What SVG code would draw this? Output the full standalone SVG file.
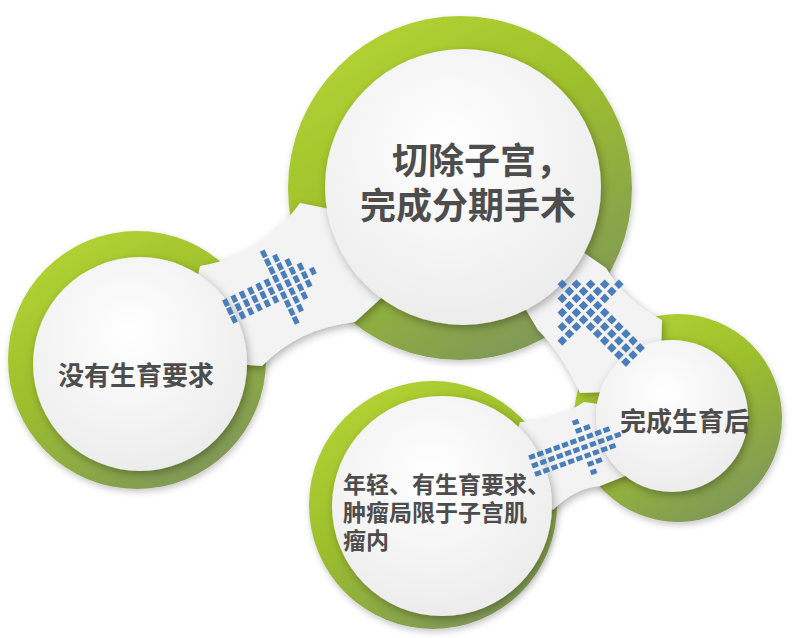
<svg xmlns="http://www.w3.org/2000/svg" xmlns:xlink="http://www.w3.org/1999/xlink" width="811" height="638" viewBox="0 0 811 638">
<defs>
<linearGradient id="gr" x1="0.15" y1="0" x2="0.75" y2="1">
<stop offset="0" stop-color="#b5d533"/>
<stop offset="0.45" stop-color="#9dbf2c"/>
<stop offset="1" stop-color="#7e955b"/>
</linearGradient>
<radialGradient id="gw" cx="0.45" cy="0.35" r="0.7">
<stop offset="0" stop-color="#ffffff"/>
<stop offset="1" stop-color="#ebebeb"/>
</radialGradient>
<filter id="sh" x="-20%" y="-20%" width="140%" height="140%">
<feDropShadow dx="2" dy="3" stdDeviation="4" flood-color="#000" flood-opacity="0.3"/>
</filter>
<filter id="shr" x="-20%" y="-20%" width="140%" height="140%">
<feDropShadow dx="1" dy="3" stdDeviation="3" flood-color="#000" flood-opacity="0.22"/>
</filter>
<rect id="q1" x="-0.28" y="-0.4" width="0.56" height="0.8"/>
<rect id="q2" x="-0.34" y="-0.34" width="0.68" height="0.68"/>
<rect id="q3" x="-0.36" y="-0.28" width="0.72" height="0.56"/>
</defs>
<style>
.ring{fill:url(#gr)}
.inner{fill:url(#gw);filter:url(#sh)}
.band{fill:#f3f3f3}
.lbl{font-family:"Liberation Sans","Noto Sans CJK SC",sans-serif;font-weight:700;fill:#4d4d4d}
.dots{fill:#4a7ebb}
</style>
<rect width="811" height="638" fill="#ffffff"/>

<g id="rings" filter="url(#shr)">
<circle id="ring-top" class="ring" cx="460" cy="188" r="172"/>
<circle id="ring-left" class="ring" cx="137" cy="360" r="129"/>
<circle id="ring-right" class="ring" cx="678" cy="418" r="104"/>
<circle id="ring-bottom" class="ring" cx="433" cy="505" r="124"/>
</g>

<g id="connector-bands" filter="url(#sh)">
<path class="band" d="M200,266 Q262,256 300,203 L360,215 L390,290 L355,322 Q298,328 262,366 L180,360 Z"/>
<path class="band" d="M606,268 Q626,302 662,320 L660,390 L580,393 Q564,356 538,330 L520,300 L580,250 Z"/>
<path class="band" d="M520,422 Q554,422 584,402 L640,410 L640,470 L600,486 Q574,488 553,510 L500,480 Z"/>
</g>

<g id="node-top">
<circle class="inner" cx="463" cy="187" r="138"/>
<text class="lbl" x="392" y="174" font-size="36">切除子宫，</text>
<text class="lbl" x="360" y="219" font-size="36">完成分期手术</text>
</g>
<g id="node-left">
<circle class="inner" cx="140" cy="364" r="107"/>
<text class="lbl" x="58" y="385" font-size="26">没有生育要求</text>
</g>
<g id="node-right">
<circle class="inner" cx="672" cy="416" r="76"/>
<text class="lbl" x="620" y="431" font-size="26">完成生育后</text>
</g>
<g id="node-bottom">
<circle class="inner" cx="442" cy="506" r="110"/>
<text class="lbl" x="343" y="493" font-size="23">年轻、有生育要求、</text>
<text class="lbl" x="343" y="521" font-size="23">肿瘤局限于子宫肌</text>
<text class="lbl" x="343" y="549" font-size="23">瘤内</text>
</g>

<g id="connectors" class="dots">
<g id="arrow-left-top" transform="translate(230,311) rotate(-25.7) scale(9.2)">
<use href="#q1" x="0" y="-1"/><use href="#q1" x="0" y="0"/><use href="#q1" x="0" y="1"/>
<use href="#q1" x="1" y="-1"/><use href="#q1" x="1" y="0"/><use href="#q1" x="1" y="1"/>
<use href="#q1" x="2" y="-1"/><use href="#q1" x="2" y="0"/><use href="#q1" x="2" y="1"/>
<use href="#q1" x="3" y="-1"/><use href="#q1" x="3" y="0"/><use href="#q1" x="3" y="1"/>
<use href="#q1" x="4" y="-1"/><use href="#q1" x="4" y="0"/><use href="#q1" x="4" y="1"/>
<use href="#q1" x="5" y="-1"/><use href="#q1" x="5" y="0"/><use href="#q1" x="5" y="1"/>
<use href="#q1" x="6" y="-4"/><use href="#q1" x="6" y="-3"/><use href="#q1" x="6" y="-2"/><use href="#q1" x="6" y="-1"/><use href="#q1" x="6" y="0"/><use href="#q1" x="6" y="1"/><use href="#q1" x="6" y="2"/><use href="#q1" x="6" y="3"/><use href="#q1" x="6" y="4"/>
<use href="#q1" x="7" y="-3"/><use href="#q1" x="7" y="-2"/><use href="#q1" x="7" y="-1"/><use href="#q1" x="7" y="0"/><use href="#q1" x="7" y="1"/><use href="#q1" x="7" y="2"/><use href="#q1" x="7" y="3"/>
<use href="#q1" x="8" y="-2"/><use href="#q1" x="8" y="-1"/><use href="#q1" x="8" y="0"/><use href="#q1" x="8" y="1"/><use href="#q1" x="8" y="2"/>
<use href="#q1" x="9" y="-1"/><use href="#q1" x="9" y="0"/><use href="#q1" x="9" y="1"/>
<use href="#q1" x="10" y="0"/>
</g>
<g id="arrow-right-top" transform="translate(633,355) rotate(-135) scale(10)">
<use href="#q2" x="0" y="-1"/><use href="#q2" x="0" y="0"/><use href="#q2" x="0" y="1"/>
<use href="#q2" x="1" y="-1"/><use href="#q2" x="1" y="0"/><use href="#q2" x="1" y="1"/>
<use href="#q2" x="2" y="-1"/><use href="#q2" x="2" y="0"/><use href="#q2" x="2" y="1"/>
<use href="#q2" x="3" y="-1"/><use href="#q2" x="3" y="0"/><use href="#q2" x="3" y="1"/>
<use href="#q2" x="4" y="-1"/><use href="#q2" x="4" y="0"/><use href="#q2" x="4" y="1"/>
<use href="#q2" x="5" y="-1"/><use href="#q2" x="5" y="0"/><use href="#q2" x="5" y="1"/>
<use href="#q2" x="6" y="-4"/><use href="#q2" x="6" y="-3"/><use href="#q2" x="6" y="-2"/><use href="#q2" x="6" y="-1"/><use href="#q2" x="6" y="0"/><use href="#q2" x="6" y="1"/><use href="#q2" x="6" y="2"/><use href="#q2" x="6" y="3"/><use href="#q2" x="6" y="4"/>
<use href="#q2" x="7" y="-3"/><use href="#q2" x="7" y="-2"/><use href="#q2" x="7" y="-1"/><use href="#q2" x="7" y="0"/><use href="#q2" x="7" y="1"/><use href="#q2" x="7" y="2"/><use href="#q2" x="7" y="3"/>
<use href="#q2" x="8" y="-2"/><use href="#q2" x="8" y="-1"/><use href="#q2" x="8" y="0"/><use href="#q2" x="8" y="1"/><use href="#q2" x="8" y="2"/>
<use href="#q2" x="9" y="-1"/><use href="#q2" x="9" y="0"/><use href="#q2" x="9" y="1"/>
<use href="#q2" x="10" y="0"/>
</g>
<g id="arrow-bottom-right" transform="translate(535,465) rotate(-19.9) scale(8.8)">
<use href="#q3" x="0" y="-1"/><use href="#q3" x="0" y="0"/><use href="#q3" x="0" y="1"/>
<use href="#q3" x="1" y="-1"/><use href="#q3" x="1" y="0"/><use href="#q3" x="1" y="1"/>
<use href="#q3" x="2" y="-1"/><use href="#q3" x="2" y="0"/><use href="#q3" x="2" y="1"/>
<use href="#q3" x="3" y="-1"/><use href="#q3" x="3" y="0"/><use href="#q3" x="3" y="1"/>
<use href="#q3" x="4" y="-1"/><use href="#q3" x="4" y="0"/><use href="#q3" x="4" y="1"/>
<use href="#q3" x="5" y="-1"/><use href="#q3" x="5" y="0"/><use href="#q3" x="5" y="1"/>
<use href="#q3" x="6" y="-3"/><use href="#q3" x="6" y="-2"/><use href="#q3" x="6" y="-1"/><use href="#q3" x="6" y="0"/><use href="#q3" x="6" y="1"/><use href="#q3" x="6" y="2"/><use href="#q3" x="6" y="3"/>
<use href="#q3" x="7" y="-2"/><use href="#q3" x="7" y="-1"/><use href="#q3" x="7" y="0"/><use href="#q3" x="7" y="1"/><use href="#q3" x="7" y="2"/>
<use href="#q3" x="8" y="-1"/><use href="#q3" x="8" y="0"/><use href="#q3" x="8" y="1"/>
<use href="#q3" x="9" y="-1"/><use href="#q3" x="9" y="0"/><use href="#q3" x="9" y="1"/>
<use href="#q3" x="10" y="0"/>
</g>
</g>
</svg>
